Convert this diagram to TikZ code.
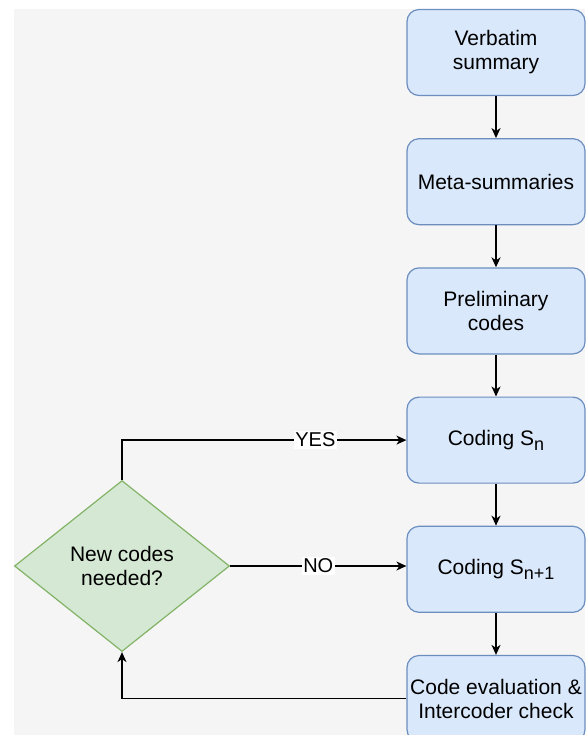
\documentclass[tikz,border=0pt]{standalone}
\usepackage{fontspec}
\setmainfont{Liberation Sans}
\usepackage{tikz}
\usetikzlibrary{positioning}
\usetikzlibrary{shapes.geometric}
\usetikzlibrary{arrows.meta}
\definecolor{Paper}{HTML}{F5F5F5}
\definecolor{StageFill}{HTML}{DAE8FC}
\definecolor{StageLine}{HTML}{6C8EBF}
\definecolor{DecFill}{HTML}{D5E8D4}
\definecolor{DecLine}{HTML}{82B366}
\newcommand{\idx}[1]{\raisebox{-0.45ex}{\fontsize{9}{10}\selectfont #1}}

\begin{document}
\begin{tikzpicture}[x=1pt,y=1pt]
      \tikzstyle{every node}=[font=\fontsize{10.5}{12}\selectfont]
      \tikzstyle{stage}=[draw=StageLine, fill=StageFill, line width=0.6pt,
        rounded corners=6pt, minimum width=89pt, minimum height=43pt,
        inner xsep=1pt, align=center]
      \tikzstyle{decision}=[diamond, draw=DecLine, fill=DecFill, line width=0.6pt,
        minimum width=107.5pt, minimum height=85.5pt, inner sep=0pt, align=center]
      \tikzstyle{flow}=[line width=0.75pt, -{Stealth[length=5pt,width=4.5pt,inset=1.5pt]}]
      \tikzstyle{answer}=[fill=white, inner sep=0.8pt, font=\fontsize{10}{12}\selectfont]
      \tikzset{node distance=21pt}

      \useasboundingbox (0,0) rectangle (292.5,-367.5);
      \fill[Paper] (7,-4.5) rectangle (292.5,-367.5);

      % stages
      \node[stage] (verbatim) at (248,-26.25) {Verbatim\\summary};
      \node[stage, below=of verbatim] (meta) {Meta-summaries};
      \node[stage, below=of meta] (prelim) {Preliminary\\codes};
      \node[stage, below=of prelim] (sn) {Coding S\idx{n}};
      \node[stage, below=of sn] (snext) {Coding S\idx{n+1}};
      \node[stage, below=of snext] (eval) {Code evaluation \&\\Intercoder check};

      % decision
      \node[decision] (newcodes) at (61,-283) {New codes\\needed?};

      \draw[flow] (verbatim) -- (meta);
      \draw[flow] (meta) -- (prelim);
      \draw[flow] (prelim) -- (sn);
      \draw[flow] (sn) -- (snext);
      \draw[flow] (snext) -- (eval);
      \draw[flow] (newcodes.north) |- node[answer, pos=0.84] {YES} (sn.west);
      \draw[flow] (newcodes.east) -- node[answer] {NO} (newcodes.east -| snext.west);
      \draw[flow] (eval.west) -| (newcodes.south);
    \end{tikzpicture}
\end{document}
